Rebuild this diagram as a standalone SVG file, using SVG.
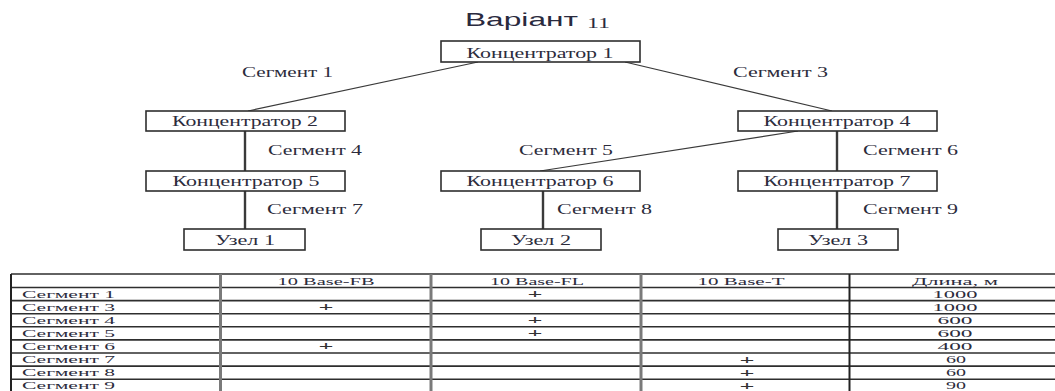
<svg xmlns="http://www.w3.org/2000/svg" width="1055" height="391" viewBox="0 0 1055 391">
  <style>
    .box { fill: #ffffff; stroke: #2e2e2e; stroke-width: 1.6; }
    .lbl { font-family: "Liberation Serif", "Times New Roman", serif; font-size: 14px; fill: #2c2c3c; text-anchor: middle; }
    .seg { font-family: "Liberation Serif", "Times New Roman", serif; font-size: 14px; fill: #2c2c3c; }
    .cell { font-family: "Liberation Serif", "Times New Roman", serif; font-size: 11px; fill: #2c2c3c; }
    .mid { text-anchor: middle; }
    .plus { font-family: "Liberation Serif", "Times New Roman", serif; font-size: 12px; fill: #333333; text-anchor: middle; font-weight: bold; }
    .diag { stroke: #3a3a3a; stroke-width: 1.2; fill: none; }
    .vert { stroke: #3a3a3a; stroke-width: 2.4; fill: none; }
    .row { stroke: #2e2e2e; stroke-width: 1.6; }
    .col { stroke: #7a7a7a; stroke-width: 3; }
    .edge { stroke: #222222; stroke-width: 2; }
  </style>

  <rect width="1055" height="391" fill="#ffffff"/>

  <!-- heading -->
  <text x="465" y="26" font-family="Liberation Sans, Arial, sans-serif" font-size="19" fill="#2a2a3e" textLength="113" lengthAdjust="spacingAndGlyphs">Варіант</text>
  <text x="587" y="28" font-family="Liberation Serif, serif" font-size="14" fill="#2a2a3e" textLength="23" lengthAdjust="spacingAndGlyphs">11</text>

  <!-- links between hubs and hosts -->
  <g id="connectors">
    <line class="diag" x1="478" y1="62" x2="248" y2="111"/>
    <line class="diag" x1="625" y1="62" x2="832" y2="111"/>
    <line class="diag" x1="798" y1="131" x2="540" y2="171"/>
    <line class="vert" x1="245" y1="131" x2="245" y2="171"/>
    <line class="vert" x1="837" y1="131" x2="837" y2="171"/>
    <line class="vert" x1="245" y1="191" x2="245" y2="229"/>
    <line class="vert" x1="543" y1="191" x2="543" y2="229"/>
    <line class="vert" x1="837" y1="191" x2="837" y2="229"/>
  </g>

  <!-- segment labels -->
  <g id="segment-labels">
    <text class="seg" x="242" y="77" textLength="91" lengthAdjust="spacingAndGlyphs">Сегмент 1</text>
    <text class="seg" x="733" y="77" textLength="95" lengthAdjust="spacingAndGlyphs">Сегмент 3</text>
    <text class="seg" x="268" y="155" textLength="94" lengthAdjust="spacingAndGlyphs">Сегмент 4</text>
    <text class="seg" x="519" y="155" textLength="94" lengthAdjust="spacingAndGlyphs">Сегмент 5</text>
    <text class="seg" x="863" y="155" textLength="95" lengthAdjust="spacingAndGlyphs">Сегмент 6</text>
    <text class="seg" x="267" y="214" textLength="96" lengthAdjust="spacingAndGlyphs">Сегмент 7</text>
    <text class="seg" x="557" y="214" textLength="95" lengthAdjust="spacingAndGlyphs">Сегмент 8</text>
    <text class="seg" x="863" y="214" textLength="95" lengthAdjust="spacingAndGlyphs">Сегмент 9</text>
  </g>

  <g id="hub1">
    <rect class="box" x="441" y="41" width="199" height="21"/>
    <text class="lbl" x="540" y="58" textLength="147" lengthAdjust="spacingAndGlyphs">Концентратор 1</text>
  </g>
  <g id="hub2">
    <rect class="box" x="146" y="111" width="199" height="20"/>
    <text class="lbl" x="245" y="126" textLength="146" lengthAdjust="spacingAndGlyphs">Концентратор 2</text>
  </g>
  <g id="hub4">
    <rect class="box" x="738" y="111" width="199" height="20"/>
    <text class="lbl" x="837" y="126" textLength="147" lengthAdjust="spacingAndGlyphs">Концентратор 4</text>
  </g>
  <g id="hub5">
    <rect class="box" x="146" y="171" width="199" height="20"/>
    <text class="lbl" x="246" y="186" textLength="147" lengthAdjust="spacingAndGlyphs">Концентратор 5</text>
  </g>
  <g id="hub6">
    <rect class="box" x="441" y="171" width="199" height="20"/>
    <text class="lbl" x="540" y="186" textLength="147" lengthAdjust="spacingAndGlyphs">Концентратор 6</text>
  </g>
  <g id="hub7">
    <rect class="box" x="738" y="171" width="199" height="20"/>
    <text class="lbl" x="837" y="186" textLength="147" lengthAdjust="spacingAndGlyphs">Концентратор 7</text>
  </g>
  <g id="host1">
    <rect class="box" x="184" y="229" width="121" height="21"/>
    <text class="lbl" x="245" y="245" textLength="60" lengthAdjust="spacingAndGlyphs">Узел 1</text>
  </g>
  <g id="host2">
    <rect class="box" x="481" y="229" width="120" height="21"/>
    <text class="lbl" x="541" y="245" textLength="60" lengthAdjust="spacingAndGlyphs">Узел 2</text>
  </g>
  <g id="host3">
    <rect class="box" x="778" y="229" width="120" height="21"/>
    <text class="lbl" x="838" y="245" textLength="60" lengthAdjust="spacingAndGlyphs">Узел 3</text>
  </g>

  <!-- segment table -->
  <g id="table">
    <line class="row" x1="11" y1="274" x2="1055" y2="274"/>
    <line class="row" x1="11" y1="287.5" x2="1055" y2="287.5"/>
    <line class="row" x1="11" y1="300.6" x2="1055" y2="300.6"/>
    <line class="row" x1="11" y1="313.7" x2="1055" y2="313.7"/>
    <line class="row" x1="11" y1="326.8" x2="1055" y2="326.8"/>
    <line class="row" x1="11" y1="339.9" x2="1055" y2="339.9"/>
    <line class="row" x1="11" y1="353" x2="1055" y2="353"/>
    <line class="row" x1="11" y1="366.1" x2="1055" y2="366.1"/>
    <line class="row" x1="11" y1="379.2" x2="1055" y2="379.2"/>
    <line class="edge" x1="11" y1="274" x2="11" y2="391"/>
    <line class="col" x1="220.5" y1="274" x2="220.5" y2="391"/>
    <line class="col" x1="431" y1="274" x2="431" y2="391"/>
    <line class="col" x1="641" y1="274" x2="641" y2="391"/>
    <line class="edge" x1="849.5" y1="274" x2="849.5" y2="391"/>

    <!-- header -->
    <text class="cell mid" x="326" y="285" textLength="97" lengthAdjust="spacingAndGlyphs">10 Base-FB</text>
    <text class="cell mid" x="537" y="285" textLength="94" lengthAdjust="spacingAndGlyphs">10 Base-FL</text>
    <text class="cell mid" x="741" y="285" textLength="87" lengthAdjust="spacingAndGlyphs">10 Base-T</text>
    <text class="cell mid" x="955" y="285" textLength="86" lengthAdjust="spacingAndGlyphs">Длина, м</text>

    <!-- row labels -->
    <text class="cell" x="22" y="297.6" textLength="93" lengthAdjust="spacingAndGlyphs">Сегмент 1</text>
    <text class="cell" x="22" y="310.7" textLength="93" lengthAdjust="spacingAndGlyphs">Сегмент 3</text>
    <text class="cell" x="22" y="323.8" textLength="93" lengthAdjust="spacingAndGlyphs">Сегмент 4</text>
    <text class="cell" x="22" y="336.9" textLength="93" lengthAdjust="spacingAndGlyphs">Сегмент 5</text>
    <text class="cell" x="22" y="350" textLength="93" lengthAdjust="spacingAndGlyphs">Сегмент 6</text>
    <text class="cell" x="22" y="363.1" textLength="93" lengthAdjust="spacingAndGlyphs">Сегмент 7</text>
    <text class="cell" x="22" y="376.2" textLength="93" lengthAdjust="spacingAndGlyphs">Сегмент 8</text>
    <text class="cell" x="22" y="389.3" textLength="93" lengthAdjust="spacingAndGlyphs">Сегмент 9</text>

    <!-- media marks -->
    <text class="plus" x="535" y="298" textLength="15" lengthAdjust="spacingAndGlyphs">+</text>
    <text class="plus" x="326" y="311.1" textLength="15" lengthAdjust="spacingAndGlyphs">+</text>
    <text class="plus" x="535" y="324.2" textLength="15" lengthAdjust="spacingAndGlyphs">+</text>
    <text class="plus" x="535" y="337.3" textLength="15" lengthAdjust="spacingAndGlyphs">+</text>
    <text class="plus" x="326" y="350.4" textLength="15" lengthAdjust="spacingAndGlyphs">+</text>
    <text class="plus" x="747" y="363.5" textLength="15" lengthAdjust="spacingAndGlyphs">+</text>
    <text class="plus" x="747" y="376.6" textLength="15" lengthAdjust="spacingAndGlyphs">+</text>
    <text class="plus" x="747" y="389.7" textLength="15" lengthAdjust="spacingAndGlyphs">+</text>

    <!-- lengths -->
    <text class="cell mid" x="955" y="297.6" textLength="45" lengthAdjust="spacingAndGlyphs">1000</text>
    <text class="cell mid" x="955" y="310.7" textLength="45" lengthAdjust="spacingAndGlyphs">1000</text>
    <text class="cell mid" x="955" y="323.8" textLength="35" lengthAdjust="spacingAndGlyphs">600</text>
    <text class="cell mid" x="955" y="336.9" textLength="35" lengthAdjust="spacingAndGlyphs">600</text>
    <text class="cell mid" x="955" y="350" textLength="35" lengthAdjust="spacingAndGlyphs">400</text>
    <text class="cell mid" x="956" y="363.1" textLength="20" lengthAdjust="spacingAndGlyphs">60</text>
    <text class="cell mid" x="956" y="376.2" textLength="20" lengthAdjust="spacingAndGlyphs">60</text>
    <text class="cell mid" x="956" y="389.3" textLength="20" lengthAdjust="spacingAndGlyphs">90</text>
  </g>
</svg>
